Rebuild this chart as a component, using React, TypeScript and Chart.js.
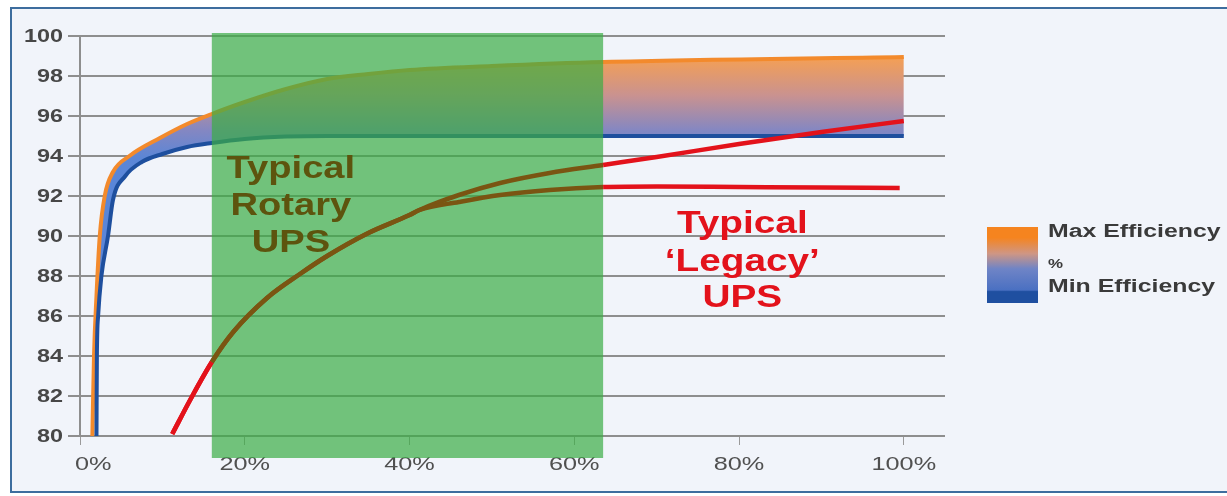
import React, { useEffect, useRef } from 'react';
import { Chart, registerables } from 'chart.js';

Chart.register(...registerables);

// ---- data (x = load %, y = efficiency %) ----
const maxEffX = [1.5, 1.7, 2.0, 2.4, 3.0, 4.0, 6.0, 9.7, 13, 16, 20, 25, 30, 35, 40, 50, 63.5, 100];
const maxEffY = [80, 84, 87, 90, 92, 93.2, 94, 94.9, 95.6, 96.1, 96.7, 97.35, 97.85, 98.1, 98.3, 98.5, 98.7, 98.95];

const minEffX = [2.0, 2.05, 2.2, 2.6, 3.4, 4.0, 5.5, 7.5, 10, 13, 16, 20, 25, 30, 100];
const minEffY = [80, 84, 86, 88, 90, 91.8, 93.0, 93.7, 94.1, 94.45, 94.65, 94.85, 94.97, 95, 95];

const legacyUpperX = [11.2, 13.5, 16, 18.6, 22.7, 26.7, 30, 35, 40, 41.2, 46, 51, 57, 63.5, 70, 80, 90, 100];
const legacyUpperY = [80.1, 81.9, 83.7, 85.2, 86.9, 88.1, 89.0, 90.15, 91.05, 91.3, 92.05, 92.65, 93.15, 93.55, 93.95, 94.6, 95.2, 95.75];

const legacyLowerX = [11.2, 13.5, 16, 18.6, 22.7, 26.7, 30, 35, 40, 41.2, 46, 51, 57, 63.5, 70, 80, 90, 99.5];
const legacyLowerY = [80.1, 81.9, 83.7, 85.2, 86.9, 88.1, 89.0, 90.15, 91.05, 91.3, 91.7, 92.05, 92.3, 92.45, 92.48, 92.45, 92.42, 92.4];

const xTickValues = [0, 20, 40, 60, 80, 100];
const xTickLabels = ['0%', '20%', '40%', '60%', '80%', '100%'];
const yTickValues = [80, 82, 84, 86, 88, 90, 92, 94, 96, 98, 100];
const yTickLabels = ['80', '82', '84', '86', '88', '90', '92', '94', '96', '98', '100'];

const rotaryZone = [16, 63.5];
const rotaryLines = ['Typical', 'Rotary', 'UPS'];
const legacyLines = ['Typical', '\u2018Legacy\u2019', 'UPS'];
const legendLabels = ['Max Efficiency', '%', 'Min Efficiency'];

// annotation anchors (data units)
const rotaryAnchorX = 25.6;
const rotaryBaselines = [92.9, 91.05, 89.2];
const legacyAnchorX = 80.4;
const legacyBaselines = [90.15, 88.25, 86.45];

const RED = '#e3121b';
const BROWN = '#7a5512';

const pts = (xs: number[], ys: number[]) => xs.map((x, i) => ({ x, y: ys[i] }));

function sText(ctx: CanvasRenderingContext2D, text: string, x: number, y: number, font: string, color: string, sx: number, align: CanvasTextAlign, baseline: CanvasTextBaseline = 'alphabetic') {
  ctx.save();
  ctx.translate(x, y);
  ctx.scale(sx, 1);
  ctx.font = font;
  ctx.fillStyle = color;
  ctx.textAlign = align;
  ctx.textBaseline = baseline;
  ctx.fillText(text, 0, 0);
  ctx.restore();
}

const customPlugin = {
  id: 'customDraw',
  beforeDatasetsDraw(chart: any) {
    const { ctx, scales, chartArea } = chart;
    const xs = scales.x, ys = scales.y;
    yTickValues.forEach((v, i) => {
      sText(ctx, yTickLabels[i], chartArea.left - 17, ys.getPixelForValue(v) + 1, 'bold 18px "Liberation Sans", Arial', '#474747', 1.3, 'right', 'middle');
    });
    xTickValues.forEach((v, i) => {
      const px = xs.getPixelForValue(v);
      const first = i === 0;
      sText(ctx, xTickLabels[i], first ? px - 5 : px, chartArea.bottom + 34, '19px "Liberation Sans", Arial', '#505050', 1.33, first ? 'left' : 'center');
    });
  },
  afterDatasetDraw(chart: any, args: any) {
    if (args.index !== 1) return;
    const { ctx, scales, chartArea } = chart;
    const x1 = scales.x.getPixelForValue(rotaryZone[0]);
    const x2 = scales.x.getPixelForValue(rotaryZone[1]);
    const top = scales.y.getPixelForValue(100) - 3;
    const bottom = chartArea.bottom + 22;
    ctx.save();
    ctx.fillStyle = 'rgba(58,172,68,0.7)';
    ctx.fillRect(x1, top, x2 - x1, bottom - top);
    ctx.restore();
  },
  afterDatasetsDraw(chart: any) {
    const { ctx, scales, chartArea } = chart;
    const xs = scales.x, ys = scales.y;
    const font = 'bold 31px "Liberation Sans", Arial';
    rotaryLines.forEach((t, i) => {
      sText(ctx, t, xs.getPixelForValue(rotaryAnchorX), ys.getPixelForValue(rotaryBaselines[i]), font, '#5d540e', 1.23, 'center');
    });
    legacyLines.forEach((t, i) => {
      sText(ctx, t, xs.getPixelForValue(legacyAnchorX), ys.getPixelForValue(legacyBaselines[i]), font, RED, 1.25, 'center');
    });
    // legend
    const lx = chartArea.right + 42;
    const ly = ys.getPixelForValue(90) - 9;
    const lw = 51, lh = 76;
    const g = ctx.createLinearGradient(0, ly, 0, ly + lh);
    g.addColorStop(0, '#f5841f');
    g.addColorStop(0.14, '#f5841f');
    g.addColorStop(0.35, '#cf9684');
    g.addColorStop(0.55, '#6f84c6');
    g.addColorStop(0.83, '#4a70c2');
    g.addColorStop(0.85, '#1f4fa0');
    g.addColorStop(1, '#1f4fa0');
    ctx.save();
    ctx.fillStyle = g;
    ctx.fillRect(lx, ly, lw, lh);
    ctx.restore();
    const tx = lx + lw + 10;
    sText(ctx, legendLabels[0], tx, ly + 10, 'bold 18px "Liberation Sans", Arial', '#3a3a3a', 1.38, 'left');
    sText(ctx, legendLabels[1], tx, ly + 41, 'bold 13px "Liberation Sans", Arial', '#3a3a3a', 1.3, 'left');
    sText(ctx, legendLabels[2], tx, ly + 65, 'bold 18px "Liberation Sans", Arial', '#3a3a3a', 1.38, 'left');
  },
};

const bandFill = (c: any) => {
  const chart = c.chart;
  const ys = chart.scales && chart.scales.y;
  if (!ys || !isFinite(ys.getPixelForValue(99))) return '#8a8fc0';
  const g = chart.ctx.createLinearGradient(0, ys.getPixelForValue(99), 0, ys.getPixelForValue(93));
  g.addColorStop(0, '#f6a052');
  g.addColorStop(0.33, '#c99290');
  g.addColorStop(0.62, '#8487c2');
  g.addColorStop(0.85, '#5b86d6');
  g.addColorStop(1, '#5a86d8');
  return g;
};

const legacySegment = {
  borderColor: (ctx: any) =>
    ctx.p0.parsed.x >= rotaryZone[0] - 1e-6 && ctx.p1.parsed.x <= rotaryZone[1] + 1e-6 ? BROWN : RED,
};

export default function App() {
  const ref = useRef<HTMLCanvasElement>(null);
  useEffect(() => {
    if (!ref.current) return;
    const chart = new Chart(ref.current, {
      type: 'line',
      data: {
        datasets: [
          {
            label: 'Max Efficiency',
            data: pts(maxEffX, maxEffY),
            borderColor: '#f38a2c',
            borderWidth: 4,
            pointRadius: 0,
            cubicInterpolationMode: 'monotone',
            fill: '+1',
            backgroundColor: bandFill,
            order: 4,
          },
          {
            label: 'Min Efficiency',
            data: pts(minEffX, minEffY),
            borderColor: '#1e4f9e',
            borderWidth: 4,
            pointRadius: 0,
            cubicInterpolationMode: 'monotone',
            fill: false,
            order: 3,
          },
          {
            label: 'Legacy upper',
            data: pts(legacyUpperX, legacyUpperY),
            borderColor: RED,
            borderWidth: 4.5,
            pointRadius: 0,
            cubicInterpolationMode: 'monotone',
            fill: false,
            segment: legacySegment,
            order: 2,
          },
          {
            label: 'Legacy lower',
            data: pts(legacyLowerX, legacyLowerY),
            borderColor: RED,
            borderWidth: 4.5,
            pointRadius: 0,
            cubicInterpolationMode: 'monotone',
            fill: false,
            segment: legacySegment,
            order: 1,
          },
        ],
      } as any,
      options: {
        responsive: false,
        animation: false,
        layout: { padding: { left: 0, top: 36, right: 282, bottom: 0 } },
        plugins: { legend: { display: false }, tooltip: { enabled: false } },
        scales: {
          x: {
            type: 'linear',
            min: 0,
            max: 105,
            afterBuildTicks: (s: any) => {
              s.ticks = xTickValues.map((v) => ({ value: v }));
            },
            afterFit: (s: any) => {
              s.height = 60;
            },
            grid: { drawOnChartArea: false, drawTicks: true, tickLength: 9, color: '#9a9a9a', lineWidth: 1 },
            border: { display: false },
            ticks: { display: false },
          },
          y: {
            type: 'linear',
            min: 80,
            max: 100,
            afterBuildTicks: (s: any) => {
              s.ticks = yTickValues.map((v) => ({ value: v }));
            },
            afterFit: (s: any) => {
              s.width = 80;
            },
            grid: { color: '#8e8e8e', lineWidth: 2, tickLength: 12, drawTicks: true },
            border: { display: true, color: '#8e8e8e', width: 2 },
            ticks: { display: false },
          },
        },
      } as any,
      plugins: [customPlugin],
    });
    return () => chart.destroy();
  }, []);

  return (
    <div style={{ position: 'fixed', left: 0, top: 0, width: 1227, height: 496, background: '#ffffff', overflow: 'hidden' }}>
      <div
        style={{
          position: 'absolute',
          left: 10,
          top: 7,
          width: 1240,
          height: 482,
          border: '2px solid #3d6d9e',
          background: '#f1f4fa',
        }}
      />
      <canvas ref={ref} width={1227} height={496} style={{ position: 'absolute', left: 0, top: 0, width: 1227, height: 496 }} />
    </div>
  );
}
